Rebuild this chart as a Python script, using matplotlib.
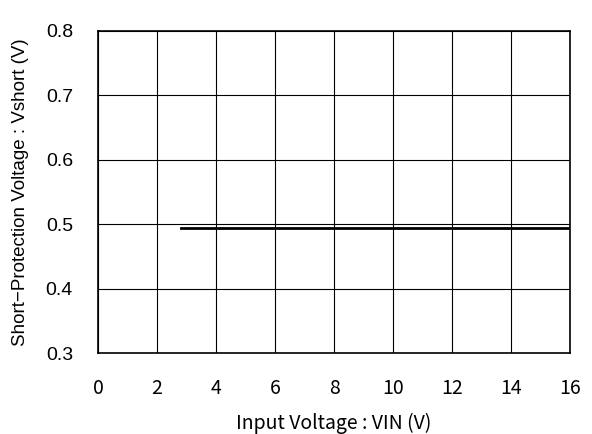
import matplotlib
matplotlib.use('Agg')
import matplotlib.pyplot as plt
from matplotlib import font_manager

plt.rcParams['font.family'] = ['Noto Sans CJK JP', 'DejaVu Sans']

# Data
vin = [2.8, 16.0]
vshort = [0.494, 0.494]
x_ticks = [0, 2, 4, 6, 8, 10, 12, 14, 16]
y_ticks = [0.3, 0.4, 0.5, 0.6, 0.7, 0.8]

arial = font_manager.FontProperties(family='Liberation Sans', size=14)
arial_lbl = font_manager.FontProperties(family='Liberation Sans', size=13.5)

fig = plt.figure(figsize=(5.92, 4.34), dpi=100)
ax = fig.add_axes([0.1655, 0.1866, 0.7975, 0.742])

ax.plot(vin, vshort, color='black', linewidth=2)

ax.set_xlim(0, 16)
ax.set_ylim(0.3, 0.8)
ax.set_xticks(x_ticks)
ax.set_yticks(y_ticks)
ax.tick_params(length=0, labelsize=14)
ax.tick_params(axis='x', pad=18)
ax.tick_params(axis='y', pad=18)
ax.set_yticklabels([f'{v:.1f}' for v in y_ticks], fontproperties=arial)
ax.grid(True, color='black', linewidth=0.8)
for s in ax.spines.values():
    s.set_linewidth(1.2)

ax.set_xlabel('Input Voltage : VIN (V)', fontsize=14, labelpad=10)
ax.set_ylabel('Short\u2212Protection Voltage : Vshort (V)', fontproperties=arial_lbl,
              labelpad=12)

plt.savefig('out.png', dpi=100)
